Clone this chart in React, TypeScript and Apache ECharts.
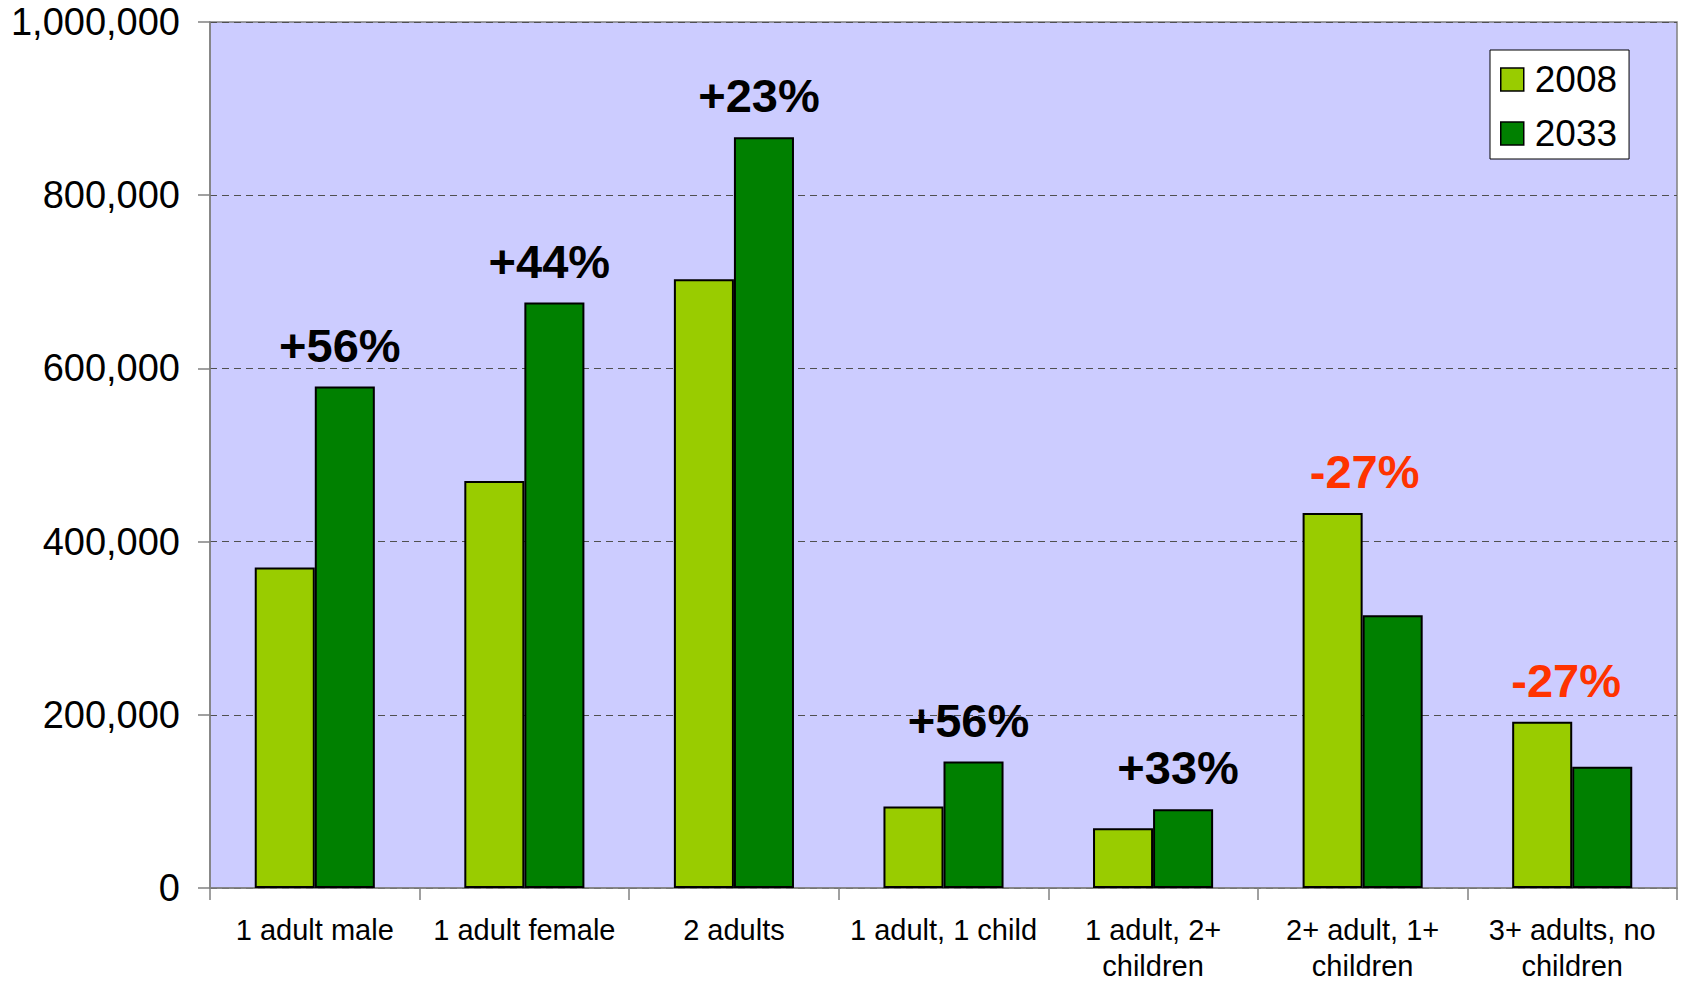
import React, { useEffect, useRef } from "react";
import * as echarts from "echarts";

const categories = [
  "1 adult male",
  "1 adult female",
  "2 adults",
  "1 adult, 1 child",
  "1 adult, 2+\nchildren",
  "2+ adult, 1+\nchildren",
  "3+ adults, no\nchildren",
];
const values2008 = [370000, 470000, 703000, 94000, 69000, 433000, 192000];
const values2033 = [579000, 676000, 867000, 146000, 91000, 315000, 140000];
const changeLabels = ["+56%", "+44%", "+23%", "+56%", "+33%", "-27%", "-27%"];
const yTicks = [0, 200000, 400000, 600000, 800000, 1000000];

const FONT = "'Liberation Sans', Arial, sans-serif";

export default function App() {
  const ref = useRef<HTMLDivElement>(null);
  useEffect(() => {
    if (!ref.current) return;
    const chart = echarts.init(ref.current, undefined, { renderer: "svg" });
    const pctLabel = (text: string, color: string, offX: number) => ({
      show: true,
      position: "top",
      distance: 18,
      offset: [offX, 0],
      formatter: text,
      color,
      fontSize: 47,
      lineHeight: 47,
      fontWeight: "bold",
      fontFamily: FONT,
    });
    const data2008 = values2008.map((v, i) => {
      const t = changeLabels[i];
      return t.startsWith("-")
        ? { value: v, label: pctLabel(t, "#FF3300", i === 5 ? 32 : 24) }
        : { value: v };
    });
    const data2033 = values2033.map((v, i) => {
      const t = changeLabels[i];
      return t.startsWith("+")
        ? { value: v, label: pctLabel(t, "#000000", -5) }
        : { value: v };
    });
    chart.setOption({
      animation: false,
      backgroundColor: "#FFFFFF",
      grid: {
        left: 210,
        right: 6,
        top: 22,
        bottom: 90,
        show: true,
        backgroundColor: "#CCCCFF",
        borderColor: "#808080",
        borderWidth: 1.5,
        containLabel: false,
      },
      legend: {
        orient: "vertical",
        left: 1490,
        top: 50,
        padding: [11, 12, 7, 10],
        backgroundColor: "#FFFFFF",
        borderColor: "#000000",
        borderWidth: 1,
        itemWidth: 23,
        itemHeight: 23,
        itemGap: 17,
        icon: "rect",
        itemStyle: { borderColor: "#000000", borderWidth: 1.5 },
        textStyle: {
          fontSize: 37,
          lineHeight: 36,
          color: "#000000",
          fontFamily: FONT,
          padding: [0, 0, 0, 6],
        },
        data: ["2008", "2033"],
      },
      xAxis: {
        type: "category",
        data: categories,
        axisLine: { show: true, lineStyle: { color: "#808080", width: 1.5 } },
        axisTick: {
          show: true,
          length: 12,
          inside: false,
          lineStyle: { color: "#808080", width: 1.5 },
        },
        axisLabel: {
          interval: 0,
          margin: 24,
          fontSize: 29,
          lineHeight: 36,
          color: "#000000",
          fontFamily: FONT,
        },
        splitLine: { show: false },
      },
      yAxis: {
        type: "value",
        min: 0,
        max: 1000000,
        interval: 200000,
        axisLine: { show: true, lineStyle: { color: "#808080", width: 1.5 } },
        axisTick: {
          show: true,
          length: 12,
          inside: false,
          lineStyle: { color: "#808080", width: 1.5 },
        },
        axisLabel: {
          margin: 30,
          fontSize: 38,
          color: "#000000",
          fontFamily: FONT,
          formatter: (v: number) =>
            yTicks.includes(v) ? v.toLocaleString("en-US") : "",
        },
        splitLine: {
          show: true,
          lineStyle: { color: "#505050", width: 1, type: [7, 5] },
        },
      },
      series: [
        {
          name: "2008",
          type: "bar",
          data: data2008,
          barGap: "0%",
          barCategoryGap: "42.7%",
          itemStyle: { color: "#99CC00", borderColor: "#000000", borderWidth: 2 },
        },
        {
          name: "2033",
          type: "bar",
          data: data2033,
          barGap: "0%",
          barCategoryGap: "42.7%",
          itemStyle: { color: "#008000", borderColor: "#000000", borderWidth: 2 },
        },
      ],
    });
    return () => chart.dispose();
  }, []);
  return (
    <div
      ref={ref}
      style={{ position: "absolute", left: 0, top: 0, width: 1683, height: 984 }}
    />
  );
}
